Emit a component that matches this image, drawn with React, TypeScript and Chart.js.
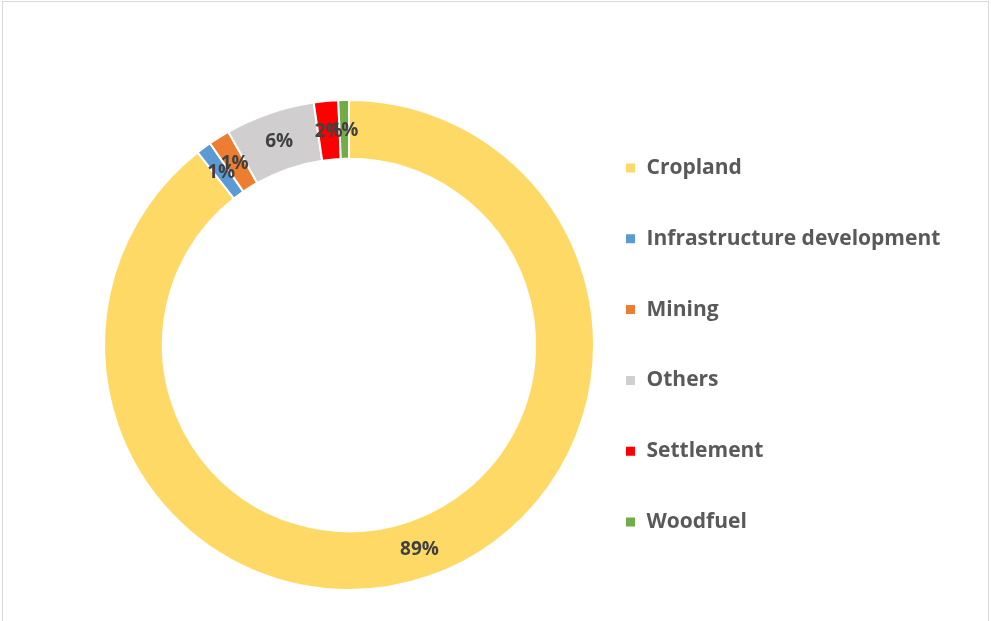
import React, { useEffect, useRef } from "react";
import { Chart, registerables } from "chart.js";

Chart.register(...registerables);

const categories = [
  "Cropland",
  "Infrastructure development",
  "Mining",
  "Others",
  "Settlement",
  "Woodfuel",
];
const shares = [89.4, 1.0, 1.4, 5.9, 1.6, 0.7];
const colors = ["#FFD966", "#5B9BD5", "#ED7D31", "#D0CECE", "#FF0000", "#70AD47"];

const FONT = "'Open Sans', 'Noto Sans', sans-serif";
const LEGEND_SIZE = 21;
const LEGEND_PAD = 49.8;
const BOX = 11;

const percentLabels = {
  id: "percentLabels",
  afterDatasetsDraw(chart: any) {
    const ctx = chart.ctx;
    const meta = chart.getDatasetMeta(0);
    const data = chart.data.datasets[0].data as number[];
    const total = data.reduce((a, b) => a + b, 0);
    ctx.save();
    ctx.font = `bold 19px ${FONT}`;
    ctx.fillStyle = "#404040";
    ctx.textAlign = "center";
    ctx.textBaseline = "middle";
    meta.data.forEach((arc: any, i: number) => {
      const { x, y } = arc.tooltipPosition();
      const pct = Math.round((data[i] / total) * 100);
      ctx.fillText(`${pct}%`, x, y + 1);
    });
    ctx.restore();
  },
};

export default function App() {
  const ref = useRef<HTMLCanvasElement>(null);
  useEffect(() => {
    if (!ref.current) return;
    // measure legend text so the legend's left edge lands where wanted
    const mctx = document.createElement("canvas").getContext("2d")!;
    mctx.font = `bold ${LEGEND_SIZE}px ${FONT}`;
    const textW = Math.max(...categories.map((c) => mctx.measureText(c).width));
    const legendLeft = 625 - LEGEND_PAD;
    const legendWidth = LEGEND_PAD + BOX + LEGEND_SIZE / 2 + textW + 10;
    const padRight = Math.max(0, 991 - legendLeft - legendWidth);
    const padLeft = 2 * 349 - legendLeft;

    const chart = new Chart(ref.current, {
      type: "doughnut",
      data: {
        labels: categories,
        datasets: [
          {
            data: shares,
            backgroundColor: colors,
            borderColor: "#ffffff",
            borderWidth: 2,
            clip: false as any,
          },
        ],
      },
      options: {
        responsive: false,
        animation: false,
        devicePixelRatio: 1,
        radius: 245,
        cutout: "76%",
        layout: { padding: { left: padLeft, right: padRight, top: 100, bottom: 31 } },
        plugins: {
          tooltip: { enabled: false },
          legend: {
            position: "right",
            labels: {
              boxWidth: BOX,
              boxHeight: BOX,
              padding: LEGEND_PAD,
              color: "#595959",
              font: { family: FONT, size: LEGEND_SIZE, weight: "bold" },
            },
          },
        },
      } as any,
      plugins: [percentLabels],
    });
    return () => chart.destroy();
  }, []);

  return (
    <div
      style={{
        position: "absolute",
        left: 0,
        top: 0,
        width: 991,
        height: 621,
        overflow: "hidden",
        background: "#ffffff",
      }}
    >
      <div
        style={{
          position: "absolute",
          left: 2,
          top: 1,
          width: 985,
          height: 700,
          border: "1px solid #d9d9d9",
          borderBottom: "none",
        }}
      />
      <canvas
        ref={ref}
        width={991}
        height={621}
        style={{ position: "absolute", left: 0, top: 0, width: 991, height: 621 }}
      />
    </div>
  );
}
